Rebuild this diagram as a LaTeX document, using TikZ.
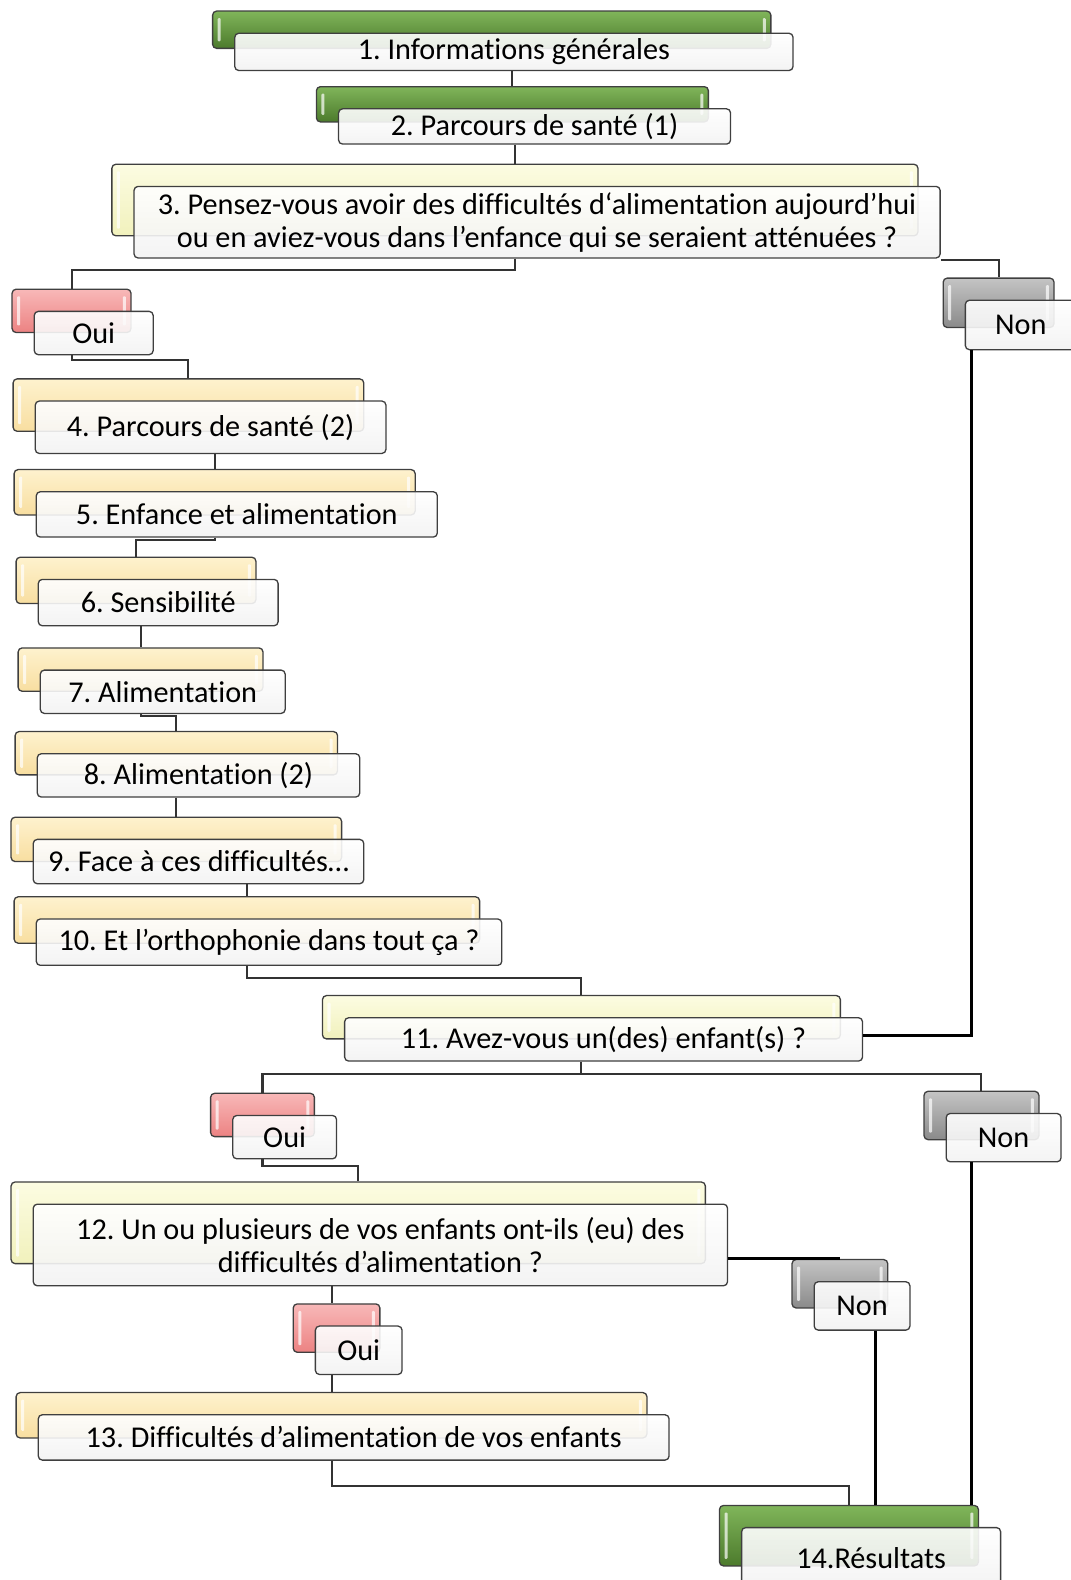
\documentclass[tikz,border=0pt]{standalone}
\usepackage{fontspec}
\setmainfont{Carlito}[Ligatures=NoCommon]
\frenchspacing
\definecolor{edge}{HTML}{3F3F3F}
\definecolor{gtop}{HTML}{80B55A}
\definecolor{gbot}{HTML}{4C7A2C}
\definecolor{ytop}{HTML}{FCFCE2}
\definecolor{ybot}{HTML}{F1F1BC}
\definecolor{otop}{HTML}{FEF2CE}
\definecolor{obot}{HTML}{F8DEA0}
\definecolor{rtop}{HTML}{F8B8B8}
\definecolor{rbot}{HTML}{EC8282}
\definecolor{ktop}{HTML}{C4C4C4}
\definecolor{kbot}{HTML}{8A8A8A}
\newcommand\qbox[7]{%
  \node[back=#6, minimum width={#4-#2}, minimum height={#5-#3}] (#1b) at ({(#2+#4)/2-22},{(#3+#5)/2-22}) {};
  \node[front, minimum width={#4-#2}, minimum height={#5-#3}] (#1) at ({(#2+#4)/2},{(#3+#5)/2}) {#7};
}
\begin{document}
\begin{tikzpicture}[x=1pt,y=-1pt,
  back/.style={draw=edge, line width=1.3pt, rounded corners=4pt, inner sep=0pt,
    top color=#1top, bottom color=#1bot,
    path picture={
      \fill[white,opacity=0.7,rounded corners=1pt] ([xshift=5pt,yshift=-7pt]path picture bounding box.north west) rectangle ([xshift=8pt,yshift=7pt]path picture bounding box.south west);
      \fill[white,opacity=0.7,rounded corners=1pt] ([xshift=-5pt,yshift=-7pt]path picture bounding box.north east) rectangle ([xshift=-8pt,yshift=7pt]path picture bounding box.south east);
    }},
  front/.style={draw=edge, line width=1.3pt, rounded corners=4pt, inner sep=0pt,
    top color=white, bottom color=black!5, fill opacity=0.9, text opacity=1,
    align=center, font=\fontsize{30}{33}\selectfont},
  conn/.style={draw=black!80, line width=2pt},
  thk/.style={draw=black, line width=3pt}]
\useasboundingbox (0,0) rectangle (1062,1568);

\qbox{n1}{233}{33}{787}{70}{g}{1. Informations générales}
\qbox{n2}{336}{108}{725}{143}{g}{2. Parcours de santé (1)}
\qbox{n3}{133}{185}{933}{256}{y}{3. Pensez-vous avoir des difficultés d‘alimentation aujourd’hui\\ou en aviez-vous dans l’enfance qui se seraient atténuées ?}
\qbox{o1}{34}{309}{152}{352}{r}{Oui}
\qbox{no1}{958}{298}{1068}{347}{k}{Non}
\qbox{n4}{35}{398}{383}{450}{o}{4. Parcours de santé (2)}
\qbox{n5}{36}{488}{434}{533}{o}{5. Enfance et alimentation}
\qbox{n6}{38}{575}{276}{621}{o}{6. Sensibilité}
\qbox{n7}{40}{665}{283}{708}{o}{7. Alimentation}
\qbox{n8}{37}{748}{357}{791}{o}{8. Alimentation (2)}
\qbox{n9}{33}{833}{361}{877}{o}{9. Face à ces difficultés…}
\qbox{n10}{36}{912}{498}{958}{o}{10. Et l’orthophonie dans tout ça ?}
\qbox{n11}{342}{1010}{856}{1053}{y}{11. Avez-vous un(des) enfant(s) ?}
\qbox{o2}{231}{1107}{334}{1150}{r}{Oui}
\qbox{no2}{939}{1105}{1053}{1153}{k}{Non}
\qbox{n12}{33}{1195}{722}{1276}{y}{12. Un ou plusieurs de vos enfants ont-ils (eu) des\\difficultés d’alimentation ?}
\qbox{no3}{808}{1272}{903}{1320}{k}{Non}
\qbox{o3}{313}{1316}{399}{1364}{r}{Oui}
\qbox{n13}{38}{1404}{664}{1449}{o}{13. Difficultés d’alimentation de vos enfants}
\qbox{n14}{736}{1516}{993}{1576}{g}{14.Résultats}

% connectors
\draw[conn] (n2b.north |- n1.south) -- (n2b.north);
\draw[conn] (n3b.north |- n2.south) -- (n3b.north);
\draw[conn] (n3b.north |- n3.south) -- ++(0,11) -| (o1b.north);
\draw[conn] ([yshift=-1pt]n3.south east) -| (no1b.north);
\draw[conn] (o1b.north |- o1.south) -- ++(0,5) -| (n4b.north);
\draw[conn] (n5b.north |- n4.south) -- (n5b.north);
\draw[conn] (n5b.north |- n5.south) -- ++(0,2) -| (n6b.north);
\draw[conn] (n7b.north |- n6.south) -- (n7b.north);
\draw[conn] (n7b.north |- n7.south) -- ++(0,2) -| (n8b.north);
\draw[conn] (n9b.north |- n8.south) -- (n9b.north);
\draw[conn] (n10b.north |- n9.south) -- (n10b.north);
\draw[conn] (n10b.north |- n10.south) -- ++(0,12) -| (n11b.north);
\draw[thk] ([xshift=7pt]no1.south west) |- ([yshift=4pt]n11.east);
\draw[conn] (n11b.north |- n11.south) -- ++(0,12) coordinate (j11);
\draw[conn] (j11) -| (o2b.north);
\draw[conn] (j11) -| (no2b.north);
\draw[conn] (o2b.north |- o2.south) -- ++(0,6) -| (n12b.north);
\draw[thk] (no3b.north -| n12.east) -- (no3b.north);
\draw[conn] (n13b.north |- n12.south) -- (n13b.north |- o3b.north);
\draw[conn] (n13b.north |- o3.south) -- (n13b.north);
\draw[conn] (n13b.north |- n13.south) -- ++(0,25) -| (n14b.north);
\draw[thk] ([xshift=13pt]no3.south) -- ([xshift=13pt]no3.south |- n14b.north);
\draw[thk] ([xshift=26pt]no2.south west) -- ([xshift=26pt]no2.south west |- n14b.north);
\end{tikzpicture}
\end{document}
